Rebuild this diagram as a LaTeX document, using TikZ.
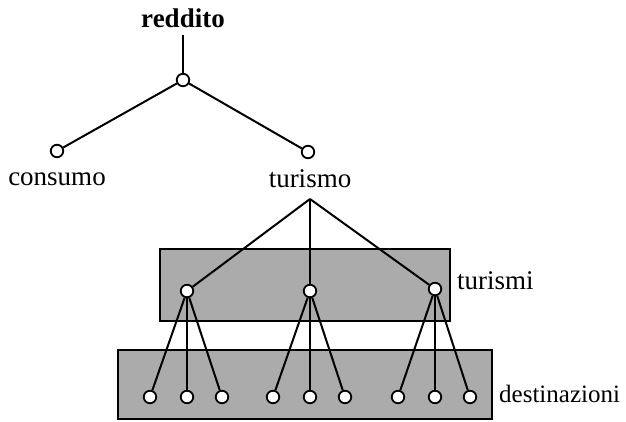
\documentclass[tikz,border=0pt]{standalone}
\usepackage{fontspec}
\setmainfont{Liberation Serif}
\usetikzlibrary{positioning}
\tikzstyle{knot}=[circle, draw, fill=white, inner sep=0pt, minimum size=12.5pt, line width=1.8pt]
\tikzstyle{edge}=[line width=2pt]
\tikzstyle{level}=[draw, line width=2pt, fill=black!33]
\tikzstyle{lbl}=[font=\fontsize{27}{30}\selectfont, inner sep=0pt]

\begin{document}
\begin{tikzpicture}[x=1pt, y=-1pt]
  \useasboundingbox (0,0) rectangle (626,421);

  % i due livelli ombreggiati
  \draw[level] (160,249) rectangle (450,321);
  \draw[level] (118,350) rectangle (492,419);

  % etichette
  \node[lbl, font=\fontsize{27}{30}\selectfont\bfseries] (reddito) at (183,18) {reddito};
  \node[lbl] (consumo) at (57,179) {consumo};
  \node[lbl] (turismo) at (310,179) {turismo};
  \node[lbl, anchor=west] (turismi) at (457,281) {turismi};
  \node[lbl, anchor=west, font=\fontsize{25}{30}\selectfont] (destinazioni) at (499,394) {destinazioni};

  % estremi liberi delle linee sotto le etichette
  \coordinate (red-b) at (183,35);
  \coordinate (tur-b) at (310,199);

  % albero superiore
  \node[knot] (r) at (183,80) {};
  \node[knot] (c) at (57,151) {};
  \node[knot] (t) at (308,152) {};
  \draw[edge] (red-b) -- (r);
  \draw[edge] (r) -- (c);
  \draw[edge] (r) -- (t);

  % turismi e destinazioni
  \foreach \i/\x/\y in {1/187/291, 2/310/291, 3/435/289} {
    \node[knot] (u\i) at (\x,\y) {};
    \draw[edge] (tur-b) -- (u\i);
    \foreach \j/\dx in {1/-37, 2/0, 3/35} {
      \node[knot] (d\i\j) at (\x+\dx,397) {};
      \draw[edge] (u\i) -- (d\i\j);
    }
  }
\end{tikzpicture}
\end{document}
